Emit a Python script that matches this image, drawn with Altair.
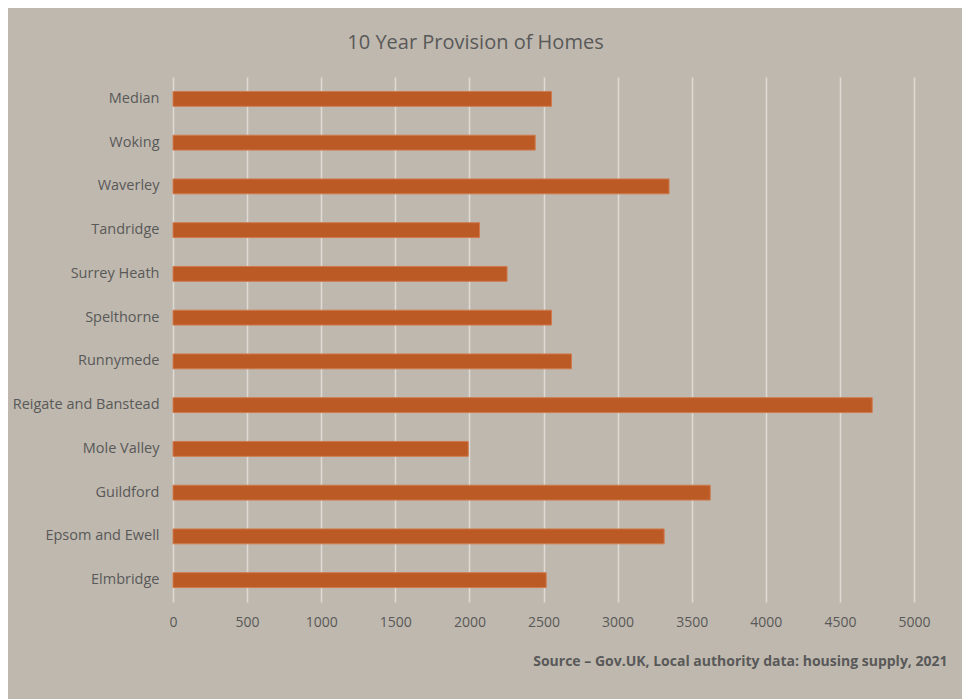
import altair as alt
import pandas as pd

areas = ["Median", "Woking", "Waverley", "Tandridge", "Surrey Heath", "Spelthorne",
         "Runnymede", "Reigate and Banstead", "Mole Valley", "Guildford",
         "Epsom and Ewell", "Elmbridge"]
homes = [2554, 2444, 3347, 2068, 2254, 2554, 2689, 4718, 1992, 3625, 3314, 2518]
x_ticks = [0, 500, 1000, 1500, 2000, 2500, 3000, 3500, 4000, 4500, 5000]

df = pd.DataFrame({"area": areas, "homes": homes})

txt = "#595959"
font = "Open Sans"

chart = alt.Chart(df).mark_bar(
    color="#BC5A26", stroke="#CF7A4E", strokeWidth=1
).encode(
    x=alt.X("homes:Q",
            scale=alt.Scale(domain=[0, 5000], nice=False),
            axis=alt.Axis(values=x_ticks, format="d", grid=True, gridColor="#DEDBD6",
                          gridWidth=1.5, domain=False, ticks=False, labelPadding=13,
                          labelFlush=False,
                          labelFont=font, labelFontSize=14, labelColor=txt,
                          title="Source – Gov.UK, Local authority data: housing supply, 2021",
                          titleFont=font, titleFontSize=14, titleFontWeight="bold",
                          titleColor=txt, titleAnchor="end", titleAlign="right",
                          titleX=774, titleY=59, titleBaseline="middle")),
    y=alt.Y("area:N", sort=areas,
            scale=alt.Scale(paddingInner=0.66, paddingOuter=0.33),
            axis=alt.Axis(title=None, grid=False, domain=False, ticks=False,
                          labelPadding=14, labelFont=font, labelFontSize=14.5,
                          labelColor=txt)),
).properties(
    width=741,
    height=525,
    autosize=alt.AutoSizeParams(type="none"),
    padding={"left": 165, "top": 69, "right": 48, "bottom": 97},
    title=alt.TitleParams("10 Year Provision of Homes", font=font, fontSize=20,
                          fontWeight="normal", color=txt, anchor="middle",
                          dx=-68, offset=14, baseline="middle"),
).configure(
    background="#BFB8AE"
).configure_view(stroke=None)

chart.save("out.html", embed_options={"renderer": "svg", "actions": False})
